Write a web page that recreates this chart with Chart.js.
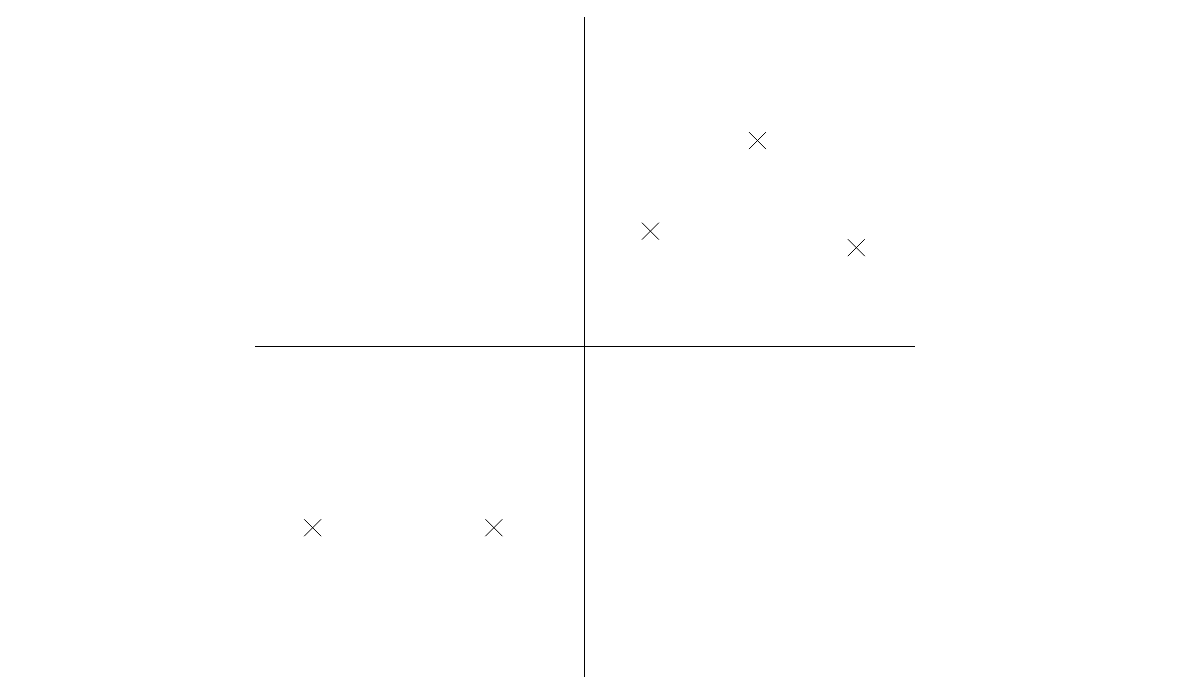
<!DOCTYPE html>
<html>
<head>
<meta charset="utf-8">
<script src="https://cdn.jsdelivr.net/npm/chart.js@4"></script>
<style>
  html, body { margin: 0; padding: 0; background: #fff; }
  #wrap { width: 1197px; height: 678px; }
</style>
</head>
<body>
<div id="wrap"><canvas id="chart" width="1197" height="678"></canvas></div>
<script>
// point coordinates
const xValues = [5.25, 2, 8.25, -8.25, -2.75];
const yValues = [6.25, 3.5, 3, -5.5, -5.5];
const axisMin = -10;
const axisMax = 10;

const points = xValues.map((x, i) => ({ x, y: yValues[i] }));

new Chart(document.getElementById('chart'), {
    type: 'scatter',
    data: {
        datasets: [{
            data: points,
            pointStyle: 'crossRot',
            pointRadius: 12,
            pointHoverRadius: 12,
            borderColor: '#000',
            borderWidth: 1
        }]
    },
    options: {
        responsive: false,
        animation: false,
        events: [],
        layout: { autoPadding: false, padding: { left: 255, right: 283, top: 17, bottom: 2 } },
        plugins: { legend: { display: false }, tooltip: { enabled: false } },
        scales: {
            x: {
                type: 'linear',
                min: axisMin,
                max: axisMax,
                position: { y: 0 },
                afterFit: s => { s.height = 0; },
                ticks: { display: false },
                grid: { display: false, drawTicks: false },
                border: { display: true, color: '#000', width: 1 }
            },
            y: {
                type: 'linear',
                min: axisMin,
                max: axisMax,
                position: { x: 0 },
                afterFit: s => { s.width = 0; },
                ticks: { display: false },
                grid: { display: false, drawTicks: false },
                border: { display: true, color: '#000', width: 1 }
            }
        }
    }
});
</script>
</body>
</html>
